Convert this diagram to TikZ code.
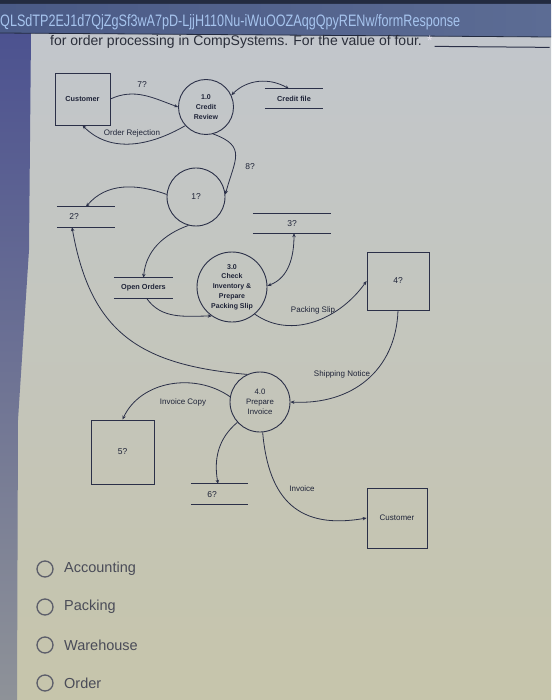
\documentclass[tikz,border=0pt]{standalone}
\usepackage{fontspec}
\setmainfont{Liberation Sans}
\usetikzlibrary{arrows.meta}
\definecolor{ink}{HTML}{2B3048}
\definecolor{txt}{HTML}{1F2438}
\definecolor{headdark}{HTML}{232B40}
\definecolor{bandL}{HTML}{4A5A86}
\definecolor{bandR}{HTML}{5C6C94}
\definecolor{urlc}{HTML}{A6C4EE}
\definecolor{pgtop}{HTML}{C2C6CC}
\definecolor{pgmid}{HTML}{CFD0CA}
\definecolor{pgbot}{HTML}{C6C5AB}
\definecolor{striptop}{HTML}{4C5290}
\definecolor{stripbot}{HTML}{8E9298}
\definecolor{qtext}{HTML}{2A2E3A}
\definecolor{radioc}{HTML}{5C5E6A}
\definecolor{optc}{HTML}{4A4C58}
\tikzset{
  entity/.style={draw=ink, line width=0.9pt, rectangle, inner sep=0pt, text=txt},
  proc/.style={draw=ink, line width=0.9pt, circle, inner sep=0pt, text=txt, align=center,
    font=\fontsize{7}{9.8}\selectfont\bfseries},
  store/.style={draw=none, rectangle, inner sep=0pt, text=txt},
  storeline/.style={draw=ink, line width=0.9pt},
  flow/.style={draw=ink, line width=0.8pt, -{Stealth[length=4pt,width=3.4pt]}},
  flowboth/.style={draw=ink, line width=0.8pt, {Stealth[length=4pt,width=3.4pt]}-{Stealth[length=4pt,width=3.4pt]}},
  flbl/.style={text=txt, inner sep=0pt, font=\fontsize{8}{9}\selectfont},
  qlbl/.style={text=txt, inner sep=0pt, font=\fontsize{8.5}{9}\selectfont},
  blbl/.style={text=txt, inner sep=0pt, font=\fontsize{7.3}{9}\selectfont\bfseries},
  radio/.style={draw=radioc, line width=1.3pt, circle, minimum size=16pt, inner sep=0pt},
  opt/.style={text=optc, inner sep=0pt, anchor=west, font=\fontsize{14.5}{16}\selectfont}
}
\begin{document}
\begin{tikzpicture}[x=1pt,y=-1pt]
\useasboundingbox (0,0) rectangle (551,700);
% background page
\shade[top color=pgtop, middle color=pgmid, bottom color=pgbot] (0,30) rectangle (551,700);
% left strip
\shade[top color=striptop, bottom color=stripbot] (0,33) -- (31,33) -- (29,250) -- (18,420) -- (17,700) -- (0,700) -- cycle;
% header bar
\fill[headdark] (0,0) rectangle (551,6);
\shade[left color=bandL, right color=bandR] (0,4) -- (551,4) -- (551,37) -- (0,33) -- cycle;
\draw[headdark, line width=0.8pt] (0,33) -- (551,37);
\node[anchor=base west, inner sep=0pt, text=urlc] (url) at (0,27)
  {\resizebox{460pt}{12pt}{QLSdTP2EJ1d7QjZgSf3wA7pD-LjjH110Nu-iWuOOZAqgQpyRENw/formResponse}};
\node[anchor=base west, inner sep=0pt, text=qtext] (q) at (50,46)
  {\fontsize{14}{16}\selectfont for order processing in CompSystems. For the value of four. \textcolor[HTML]{E4E0EA}{*}};
\draw[ink, line width=1pt] (q.east) ++(2pt,-4pt) coordinate (qline) -- ++(115pt,-1pt) coordinate (qlineend);

% ---------- diagram nodes ----------
\node[entity, minimum width=55pt, minimum height=52pt, font=\fontsize{7.3}{9}\selectfont\bfseries] (cust) at (82.5,99) {Customer};
\node[proc, minimum size=55pt] (p1) at (206,107) {1.0\\Credit\\Review};
\node[store, minimum width=58pt, minimum height=19pt, font=\fontsize{7.3}{9}\selectfont\bfseries] (cf) at (294,98.5) {Credit file};
\node[proc, minimum size=58pt, font=\fontsize{8.5}{9}\selectfont] (p2) at (196,197) {1?};
\node[store, minimum width=58pt, minimum height=20pt] (s2) at (86,217) {};
\node[qlbl] (s2t) at (74,217) {2?};
\node[store, minimum width=78pt, minimum height=19pt, font=\fontsize{8.5}{9}\selectfont] (s3) at (292,223.5) {3?};
\node[store, minimum width=59pt, minimum height=20pt, font=\fontsize{7.3}{9}\selectfont\bfseries] (oo) at (143.5,288) {Open Orders};
\node[proc, minimum size=70pt] (p3) at (232,287) {3.0\\Check\\Inventory \&\\Prepare\\Packing Slip};
\node[entity, minimum width=62pt, minimum height=58pt, font=\fontsize{8.5}{9}\selectfont] (e4) at (398,281) {4?};
\node[proc, minimum size=60pt, font=\fontsize{7.8}{10}\selectfont] (p4) at (260,402) {4.0\\Prepare\\Invoice};
\node[entity, minimum width=63pt, minimum height=64pt, font=\fontsize{8.5}{9}\selectfont] (e5) at (122.5,452) {5?};
\node[store, minimum width=57pt, minimum height=20pt] (s6) at (219.5,494) {};
\node[qlbl] (s6t) at (212,495) {6?};
\node[entity, minimum width=60pt, minimum height=60pt, font=\fontsize{8}{9}\selectfont] (cust2) at (397,518) {Customer};

% store lines
\foreach \s in {cf,s2,s3,oo,s6}{
  \draw[storeline] (\s.north west) -- (\s.north east) (\s.south west) -- (\s.south east);
}

% ---------- flows ----------
\draw[flow] (cust.east) to[out=25,in=160] (p1.west);
\draw[flow] (p1.222) to[out=210,in=-45] (cust.south);
\draw[flowboth] (p1.25) to[out=45,in=150] ([xshift=-5pt]cf.north);
\draw[flow] (p1.-75) to[out=-20,in=75,looseness=1.5] (p2.5);
\draw[flow] (p2.175) to[out=160,in=50] (s2.north);
\draw[flow] (p2.255) to[out=200,in=85] (oo.north);
\draw[flow] ([xshift=3pt]oo.south) to[out=-55,in=180] (p3.235);
\draw[flowboth] ([xshift=2pt]s3.south) to[out=-90,in=20] (p3.2);
\draw[flow] (p3.-50) to[out=-35,in=235] (e4.west);
\draw[flow] (e4.south) to[out=-92,in=-3,looseness=1.1] (p4.east);
\draw[flow] (p4.115) to[out=175,in=-80,looseness=1.2] ([xshift=-14pt]s2.south);
\draw[flow] (p4.170) to[out=145,in=65] (e5.north);
\draw[flow] (p4.222) to[out=220,in=100] ([xshift=-1.5pt]s6.north);
\draw[flow] (p4.-85) to[out=-85,in=190,looseness=1.3] (cust2.west);

% ---------- flow labels ----------
\node[qlbl] (l7) at (142,85) {7?};
\node[flbl] (lor) at (132,133) {Order Rejection};
\node[qlbl] (l8) at (250,167) {8?};
\node[flbl] (lps) at (313,310) {Packing Slip};
\node[flbl] (lsn) at (342,374) {Shipping Notice};
\node[flbl] (lic) at (183,402) {Invoice Copy};
\node[flbl] (linv) at (302,489) {Invoice};

% ---------- radio options ----------
\node[radio] (r1) at (45,569) {};
\node[radio] (r2) at (45,607) {};
\node[radio] (r3) at (45,645) {};
\node[radio] (r4) at (45,683) {};
\node[opt] (o1) at (64,569) {Accounting};
\node[opt] (o2) at (64,607) {Packing};
\node[opt] (o3) at (64,645) {Warehouse};
\node[opt] (o4) at (64,683) {Order};
\end{tikzpicture}
\end{document}
